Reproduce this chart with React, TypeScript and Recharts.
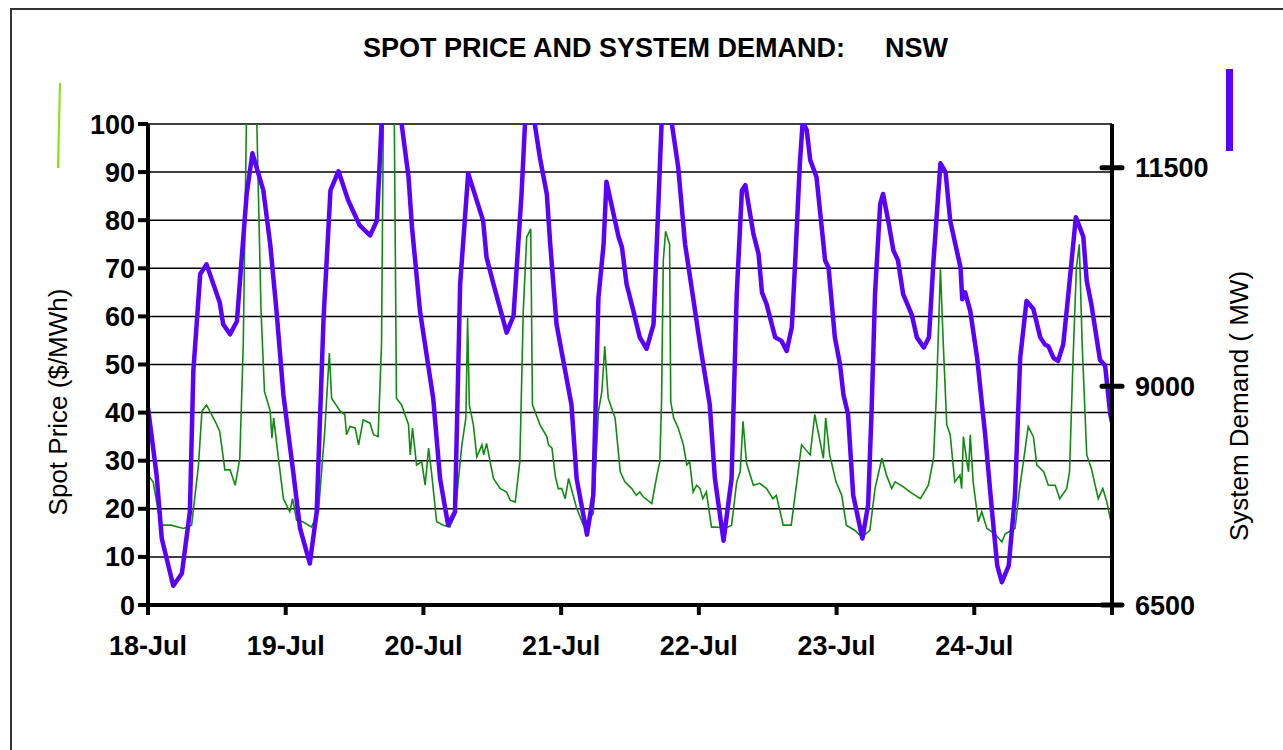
import { LineChart, Line, XAxis, YAxis, CartesianGrid } from "recharts";

// hours since 18-Jul 00:00
const priceHours = [
  0, 0.9, 2.2, 4.0, 6.2, 7.6, 8.8, 9.4, 10.2, 11.7, 12.5, 13.4, 14.3, 15.2, 16.0, 16.6, 17.5, 18.5, 19.7,
  20.3, 21.3, 21.6, 21.9, 22.8, 23.6, 24.7, 25.2, 25.9, 27, 28.5, 29.7, 30.8, 31.6, 32.0, 33.5, 34.3, 34.6,
  35.2, 36.1, 36.7, 37.5, 38.7, 39.3, 40.1, 40.7, 41.2, 42.8, 43.3, 44.2, 45.4, 45.7, 46.1, 46.8, 47.7,
  48.3, 48.9, 49.4, 50.3, 51.5, 52.6, 53.5, 54.7, 55.4, 55.7, 56.0, 56.7, 57.3, 58.2, 58.5, 59.0, 60.2,
  61.4, 62.5, 63.1, 64.0, 64.8, 65.4, 66.0, 66.7, 67.0, 68.3, 69.5, 69.8, 70.4, 71.0, 71.5, 72.1, 72.7,
  73.3, 74.7, 75.9, 77.6, 78.5, 79.1, 79.6, 80.2, 81.4, 82.3, 83.1, 84.3, 85.1, 85.7, 86.3, 87.8, 88.7,
  89.2, 89.5, 89.8, 90.2, 90.9, 91.1, 91.6, 92.4, 93.3, 93.9, 94.4, 95.0, 95.6, 96.2, 96.7, 97.3, 98.2,
  99.1, 100.6, 101.7, 102.6, 103.2, 103.7, 104.3, 105.5, 106.6, 107.8, 108.9, 109.5, 110.7, 112.1, 113.9,
  115.4, 116.2, 117.7, 118.1, 118.8, 119.9, 120.9, 121.7, 123.2, 124.4, 125.8, 126.7, 127.9, 128.7, 129.6,
  130.2, 131.6, 132.8, 134.6, 136.0, 136.9, 137.4, 138.1, 138.6, 139.2, 139.8, 140.6, 141.5, 141.8, 142.1,
  142.7, 143.0, 143.3, 143.8, 144.7, 145.3, 146.2, 147.6, 148.8, 149.4, 151.1, 151.9, 152.8, 153.4, 154.3,
  154.9, 156.1, 156.9, 158.1, 158.9, 160.1, 160.6, 161.2, 161.8, 162.3, 162.8, 163.6, 164.4, 165.6, 166.4,
  167.1, 167.7, 168,
];
const priceValues = [
  27, 25.6, 16.6, 16.6, 15.9, 16.6, 29.1, 40.3, 41.6, 38.2, 36.1, 28.1, 28.1, 24.9, 30.5, 54.2, 130, 125, 61.1,
  44.4, 40.3, 34.7, 38.9, 29.8, 22.1, 19.4, 22.1, 17.6, 17.3, 16.2, 19.4, 36.1, 52.4, 43, 40.3, 39.6, 35.4,
  37.1, 36.8, 33.3, 38.5, 37.8, 35.4, 35, 54.2, 130, 120, 43, 41.6, 37.5, 31.2, 36.8, 29.1, 29.8,
  24.9, 32.6, 27.7, 17.3, 16.6, 16.2, 18.7, 33.3, 38.9, 59.7, 41.6, 37.5, 30.8, 33.3, 31.2, 33.6, 26.3,
  24.2, 23.5, 21.8, 21.4, 29.8, 61.1, 76.5, 78.2, 41.6, 37.5, 35, 33.3, 32.6, 26.7, 24.2, 24.2, 22.1,
  26.3, 20.1, 16.6, 19, 40.3, 44.4, 53.8, 43, 38.9, 27.7, 25.6, 24.2, 22.8, 23.5, 22.5, 21.1, 27,
  29.8, 42.3, 71.6, 77.7, 75, 42.3, 38.9, 36.8, 33.3, 29.1, 29.8, 23.5, 24.9, 24.2, 22.1, 23.5, 16.2,
  16.2, 15.9, 16.6, 25.6, 27.7, 38.2, 29.5, 24.9, 25.3, 24.2, 22.1, 22.8, 16.6, 16.6, 33.3,
  31.2, 39.6, 30.5, 38.9, 31.2, 25.6, 22.8, 16.6, 15.5, 14.1, 15.5, 24.2, 30.5, 27, 24.2,
  25.6, 24.6, 23.5, 22.1, 24.9, 30.5, 43.7, 69.8, 54.2, 37.5, 35.4, 25.6, 27, 24.2, 35,
  29.8, 27.7, 35.4, 25.6, 17.3, 19.4, 15.9, 14.8, 13.1, 14.8, 15.9, 24.2, 31.9, 37.1, 35,
  29.1, 27.7, 24.9, 24.9, 22.1, 24.2, 27.7, 50.7, 70.2, 75, 54.2, 31.2, 28.4, 22.1, 24.2,
  21.4, 18, 17,
];

const demandHours = [
  0, 1.5, 2.4, 4.4, 5.9, 7.3, 7.9, 9.1, 10.2, 12.5, 13.1, 14.3, 15.5, 16.3, 17.2, 18.2, 20.1, 21.3, 22.4,
  23.6, 25.3, 26.5, 28.2, 29.4, 30.6, 31.8, 33.2, 34.9, 36.9, 38.7, 39.9, 40.7, 41.5, 43.2, 44.2, 45.4,
  46.0, 47.4, 49.7, 50.9, 52.3, 53.5, 54.4, 55.8, 58.4, 59.0, 60.2, 62.5, 63.7, 65.1, 65.7, 66.5, 67.4,
  68.3, 69.5, 70.1, 71.2, 73.8, 74.7, 76.5, 77.6, 78.5, 79.4, 79.9, 82.0, 82.6, 83.4, 84.6, 85.7, 86.9,
  88.1, 88.9, 89.5, 90.4, 91.3, 92.4, 93.6, 95.0, 96.2, 97.9, 98.8, 100.3, 101.7, 102.6, 103.5, 104.1,
  105.5, 106.4, 107.0, 107.8, 109.3, 110.4, 111.3, 112.2, 112.8, 113.6, 114.1, 114.8, 115.4, 116.5,
  117.4, 118.0, 118.6, 119.7, 120.6, 121.2, 122.0, 122.9, 124.5, 125.5, 126.1, 126.7, 127.6, 128.1,
  129.0, 129.9, 130.7, 131.6, 133.1, 134.0, 135.2, 136.1, 136.9, 138.1, 139.0, 139.8, 140.7, 141.6,
  141.9, 142.4, 143.3, 144.5, 145.9, 147.1, 148.0, 148.8, 150.0, 151.1, 152.0, 153.1, 154.3, 155.5,
  156.3, 156.9, 157.8, 158.6, 159.5, 160.4, 161.7, 163.0, 163.6, 164.4, 165.9, 166.8, 167.7, 168,
];
const demandValues = [
  8755, 7985, 7260, 6720, 6860, 7565, 9175, 10285, 10395, 9960, 9710, 9595, 9745, 10440, 11200, 11665, 11240, 10625, 9860,
  8905, 8025, 7375, 6975, 7565, 9785, 11240, 11460, 11125, 10840, 10725, 10895, 12000, 12550, 12440, 12000, 11395,
  10825, 9860, 8865, 7945, 7415, 7565, 10170, 11435, 10895, 10475, 10170, 9615, 9805, 11200, 12000, 12330, 12000,
  11615, 11200, 10625, 9710, 8790, 7945, 7305, 7755, 10015, 10625, 11340, 10710, 10590, 10170, 9860, 9560, 9430,
  9710, 11010, 12000, 12220, 12000, 11505, 10625, 10015, 9480, 8790, 7945, 7235, 7945, 10055, 11240, 11300,
  10745, 10515, 10075, 9940, 9560, 9520, 9405, 9675, 10440, 11550, 12030, 11930, 11590, 11395,
  10825, 10440, 10360, 9560, 9250, 8905, 8680, 7755, 7260, 7645, 8715, 10055, 11085, 11200,
  10895, 10555, 10440, 10055, 9820, 9560, 9445, 9560, 10440, 11550, 11450, 10895, 10625, 10360,
  9995, 10075, 9860, 9325, 8445, 7565, 6950, 6760, 6950, 7755, 9325, 9975, 9885, 9560,
  9480, 9460, 9325, 9290, 9480, 10055, 10935, 10710, 10205, 9940, 9305, 9235, 8680, 8590,
];

const dayTicks = [0, 24, 48, 72, 96, 120, 144, 168];
const dayLabels = ["18-Jul", "19-Jul", "20-Jul", "21-Jul", "22-Jul", "23-Jul", "24-Jul", ""];
const priceTicks = [0, 10, 20, 30, 40, 50, 60, 70, 80, 90, 100];
const demandTicks = [6500, 9000, 11500];

const FONT = '"Liberation Sans", Arial, Helvetica, sans-serif';
const TICK_FONT = { fontSize: 27, fontWeight: 700, fill: "#000", fontFamily: FONT };
const RIGHT_GAP = 23;

const priceData = priceHours.map((h, i) => ({ h, price: priceValues[i] }));
const demandData = demandHours.map((h, i) => ({ h, demand: demandValues[i] }));

function RightTick(props: any) {
  const { x, y, payload } = props;
  const ax = x - RIGHT_GAP;
  return (
    <g>
      <line x1={ax - 10} x2={ax + 10} y1={y} y2={y} stroke="#000" strokeWidth={5} strokeLinecap="round" />
      <text x={x} y={y} dy="0.36em" textAnchor="start" {...TICK_FONT}>
        {payload.value}
      </text>
    </g>
  );
}

export default function App() {
  return (
    <div
      style={{
        position: "fixed",
        left: 0,
        top: 0,
        width: 1283,
        height: 750,
        overflow: "hidden",
        background: "#fff",
        fontFamily: FONT,
      }}
    >
      <LineChart
        width={1283}
        height={750}
        margin={{ top: 124, right: 91, bottom: 100, left: 78 }}
        style={{ position: "absolute", left: 0, top: 0 }}
      >
        <CartesianGrid vertical={false} stroke="#000" strokeWidth={1.5} yAxisId="left" />
        <XAxis
          dataKey="h"
          type="number"
          domain={[0, 168]}
          ticks={dayTicks}
          tickFormatter={(v: number) => dayLabels[dayTicks.indexOf(v)] ?? ""}
          height={45}
          tickSize={10}
          tickMargin={21}
          axisLine={{ stroke: "#000", strokeWidth: 4 }}
          tickLine={{ stroke: "#000", strokeWidth: 4 }}
          tick={TICK_FONT}
          allowDataOverflow
        />
        <YAxis
          yAxisId="left"
          domain={[0, 100]}
          ticks={priceTicks}
          width={70}
          tickSize={10}
          tickMargin={3}
          axisLine={{ stroke: "#000", strokeWidth: 4 }}
          tickLine={{ stroke: "#000", strokeWidth: 4 }}
          tick={TICK_FONT}
          allowDataOverflow
        />
        <YAxis
          yAxisId="right"
          orientation="right"
          domain={[6500, 12000]}
          ticks={demandTicks}
          width={80}
          tickSize={0}
          tickMargin={RIGHT_GAP}
          axisLine={{ stroke: "#000", strokeWidth: 4 }}
          tickLine={false}
          tick={<RightTick />}
          allowDataOverflow
        />
        <Line
          yAxisId="left"
          data={priceData}
          dataKey="price"
          type="linear"
          stroke="#118a11"
          strokeWidth={1.6}
          dot={false}
          isAnimationActive={false}
        />
        <Line
          yAxisId="right"
          data={demandData}
          dataKey="demand"
          type="linear"
          stroke="#5a00ff"
          strokeWidth={4.5}
          strokeLinejoin="round"
          dot={false}
          isAnimationActive={false}
        />
      </LineChart>
      <svg
        width={1283}
        height={750}
        style={{ position: "absolute", left: 0, top: 0, pointerEvents: "none" }}
      >
        <path d="M11 760 L11 9 L1290 9" fill="none" stroke="#333" strokeWidth={2} />
        <text x={363} y={57} fontSize={27} fontWeight={700} fontFamily={FONT} fill="#000">
          SPOT PRICE AND SYSTEM DEMAND:
        </text>
        <text x={885} y={57} fontSize={27} fontWeight={700} fontFamily={FONT} fill="#000">
          NSW
        </text>
        <line x1={60} y1={83} x2={58} y2={168} stroke="#88e000" strokeWidth={2} />
        <rect x={1226} y={69} width={7} height={82} fill="#5a00ff" />
        <text
          transform="translate(58 402) rotate(-90)"
          textAnchor="middle"
          dominantBaseline="central"
          fontSize={26}
          fontFamily={FONT}
          fill="#000"
        >
          Spot Price ($/MWh)
        </text>
        <text
          transform="translate(1239 406) rotate(-90)"
          textAnchor="middle"
          dominantBaseline="central"
          fontSize={26}
          fontFamily={FONT}
          fill="#000"
        >
          System Demand ( MW)
        </text>
      </svg>
    </div>
  );
}
